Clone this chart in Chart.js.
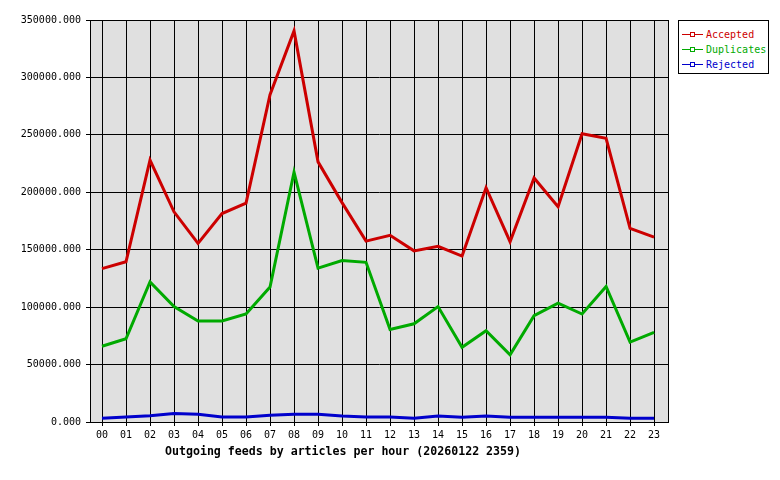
<!DOCTYPE html>
<html>
<head>
<meta charset="utf-8">
<script src="https://cdn.jsdelivr.net/npm/chart.js@4/dist/chart.umd.min.js"></script>
<style>
  body { margin: 0; background: #fff; }
  #wrap { position: relative; width: 780px; height: 480px; }
  #legend {
    position: absolute; left: 678px; top: 20px; width: 91px; height: 54px;
    border: 1px solid #000; background: #fff; box-sizing: border-box;
    font: 10px "DejaVu Sans Mono", monospace; padding-top: 6px;
  }
  .item { height: 15px; display: flex; align-items: center; }
  .swatch { position: relative; width: 21px; height: 1px; margin: 0 3px 0 3px; }
  .swatch i { position: absolute; left: 8px; top: -2px; width: 3px; height: 3px; border: 1px solid; background: #fff; box-sizing: content-box; }
</style>
</head>
<body>
<div id="wrap">
  <canvas id="chart" width="780" height="480"></canvas>
  <div id="legend"></div>
</div>
<script>
const hours = ['00','01','02','03','04','05','06','07','08','09','10','11','12','13','14','15','16','17','18','19','20','21','22','23']
const accepted = [133500, 139500, 228000, 183000, 155500, 181500, 190500, 285000, 340500, 226500, 191000, 157500, 162500, 149000, 153000, 144500, 204000, 157000, 212500, 187500, 251000, 247000, 168500, 161000]
const duplicates = [66000, 72500, 122000, 100500, 88000, 88000, 94000, 117500, 217500, 134000, 140500, 139000, 80500, 85500, 100500, 65000, 79500, 58500, 92500, 103500, 94000, 118000, 69500, 78000]
const rejected = [3200, 4400, 5500, 7500, 6700, 4400, 4400, 5800, 6700, 6700, 5200, 4400, 4400, 3200, 5200, 4100, 5200, 4100, 4100, 4100, 4100, 4100, 3200, 3200]
const seriesNames = ['Accepted', 'Duplicates', 'Rejected']
const seriesColors = ['#cc0000', '#00aa00', '#0000cc']
const caption = 'Outgoing feeds by articles per hour (20260122 2359)'

const mono = '"DejaVu Sans Mono", monospace'

const toPoints = values => values.map((v, i) => ({ x: i, y: v }))

const plotFrame = {
  id: 'plotFrame',
  beforeDraw(chart) {
    const { ctx, chartArea: a } = chart
    ctx.save()
    ctx.fillStyle = '#e0e0e0'
    ctx.fillRect(a.left, a.top, a.right - a.left, a.bottom - a.top)
    ctx.restore()
  },
  afterDraw(chart) {
    const { ctx, chartArea: a } = chart
    ctx.save()
    ctx.strokeStyle = '#000'
    ctx.lineWidth = 1
    ctx.strokeRect(a.left + 0.5, a.top + 0.5, a.right - a.left, a.bottom - a.top)
    ctx.fillStyle = '#000'
    ctx.font = 'bold 11.6px ' + mono
    ctx.textAlign = 'center'
    ctx.textBaseline = 'middle'
    ctx.fillText(caption, 343, 452)
    ctx.restore()
  }
}

new Chart(document.getElementById('chart'), {
  type: 'line',
  data: {
    datasets: [accepted, duplicates, rejected].map((values, i) => ({
      label: seriesNames[i],
      data: toPoints(values),
      borderColor: seriesColors[i],
      backgroundColor: seriesColors[i],
      borderWidth: 3,
      pointRadius: 0,
      tension: 0,
      fill: false
    }))
  },
  options: {
    responsive: false,
    animation: false,
    layout: { padding: { top: 20, right: 112, left: 0, bottom: 0 } },
    plugins: { legend: { display: false }, tooltip: { enabled: false } },
    scales: {
      x: {
        type: 'linear',
        min: -0.5,
        max: 23.58,
        afterBuildTicks(scale) { scale.ticks = hours.map((h, i) => ({ value: i })) },
        afterFit(scale) { scale.height = 58 },
        ticks: {
          callback: (v, i) => hours[i],
          color: '#000',
          font: { family: mono, size: 10 },
          padding: 3,
          maxRotation: 0,
          autoSkip: false
        },
        grid: { color: '#000', lineWidth: 1, tickLength: 4 },
        border: { color: '#000' }
      },
      y: {
        min: 0,
        max: 350000,
        afterFit(scale) { scale.width = 90 },
        ticks: {
          stepSize: 50000,
          callback: v => v.toFixed(3),
          color: '#000',
          font: { family: mono, size: 10 },
          padding: 5
        },
        grid: { color: '#000', lineWidth: 1, tickLength: 4 },
        border: { color: '#000' }
      }
    }
  },
  plugins: [plotFrame]
})

const legend = document.getElementById('legend')
seriesNames.forEach((name, i) => {
  const row = document.createElement('div')
  row.className = 'item'
  row.innerHTML = `<span class="swatch" style="background:${seriesColors[i]}"><i style="border-color:${seriesColors[i]}"></i></span><span style="color:${seriesColors[i]}">${name}</span>`
  legend.appendChild(row)
})
</script>
</body>
</html>
